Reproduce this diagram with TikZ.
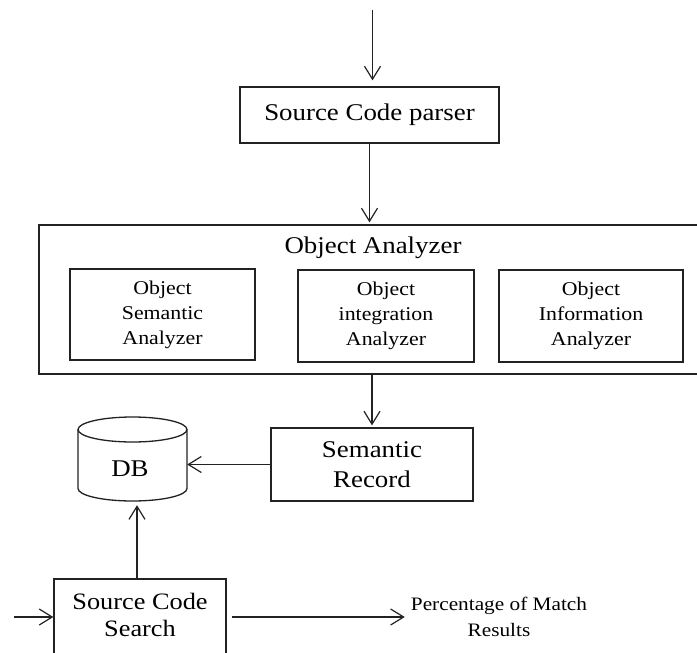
\documentclass[tikz,border=0pt]{standalone}
\usepackage{fontspec}
\setmainfont{Liberation Serif}[FakeStretch=1.12]
\usetikzlibrary{arrows.meta}
\definecolor{ink}{HTML}{222222}
\tikzset{
  box/.style={draw=ink, line width=1.3pt, rectangle, inner sep=0pt, align=center},
  big/.style={font=\fontsize{24}{30}\selectfont},
  small/.style={font=\fontsize{19.5}{25}\selectfont},
  arr/.style={draw=ink, line width=1.3pt, -{Straight Barb[length=13pt,width=16pt,line width=1.2pt]}},
}
\begin{document}
\begin{tikzpicture}[x=1pt, y=-1pt]
\useasboundingbox (0,0) rectangle (697,653);

% source code parser
\node[box, big, minimum width=259pt, minimum height=56pt] (parser) at (369.5,115) {Source Code parser};
\coordinate (entry) at (372.5,10);

% object analyzer with its three parts
\node[box, minimum width=661pt, minimum height=149pt] (oa) at (369.5,299.5) {};
\node[big] (oatitle) at (373,248) {Object Analyzer};
\node[box, small, minimum width=185pt, minimum height=91pt] (sem) at (162.5,314.5) {Object\\Semantic\\Analyzer};
\node[box, small, minimum width=176pt, minimum height=92pt] (integ) at (386,316) {Object\\integration\\Analyzer};
\node[box, small, minimum width=184pt, minimum height=92pt] (info) at (591,316) {Object\\Information\\Analyzer};

% semantic record
\node[box, big, minimum width=202pt, minimum height=73pt] (sr) at (372,464.5) {Semantic\\Record};

% database cylinder
\node[minimum width=109pt, minimum height=84pt, inner sep=0pt] (db) at (132.5,459) {};
\draw[ink, line width=1.3pt] (132.5,429.5) ellipse [x radius=54.5, y radius=12.5];
\draw[ink, line width=1.3pt] (78,429.5) -- (78,488.5) arc[start angle=180, end angle=0, x radius=54.5, y radius=12.5] -- (187,429.5);
\node[big] (dblabel) at (130,469) {DB};

% source code search
\node[box, minimum width=172pt, minimum height=110pt] (search) at (140,634) {};
\node[big, align=center, font=\fontsize{23.5}{27}\selectfont] (searchlabel) at (140,615) {Source Code\\Search};
\node[font=\fontsize{19}{26}\selectfont, align=center, inner sep=6pt] (res) at (499,617) {Percentage of Match\\Results};
\coordinate (query) at (14,617);

% connectors
\draw[arr, shorten >=6pt] (entry) -- (entry |- parser.north);
\draw[arr, shorten >=2pt] (parser.south) -- (parser.south |- oa.north);
\draw[arr, shorten >=2pt] (oa.south -| sr.north) -- (sr.north);
\draw[arr] (sr.west) -- (sr.west -| db.east);
\draw[arr, shorten >=4pt] (search.north -| 137,0) -- (db.south -| 137,0);
\draw[arr] (query) -- (query -| search.west);
\draw[arr, shorten <=5pt] (search.east |- res.west) -- (res.west);
\end{tikzpicture}
\end{document}
